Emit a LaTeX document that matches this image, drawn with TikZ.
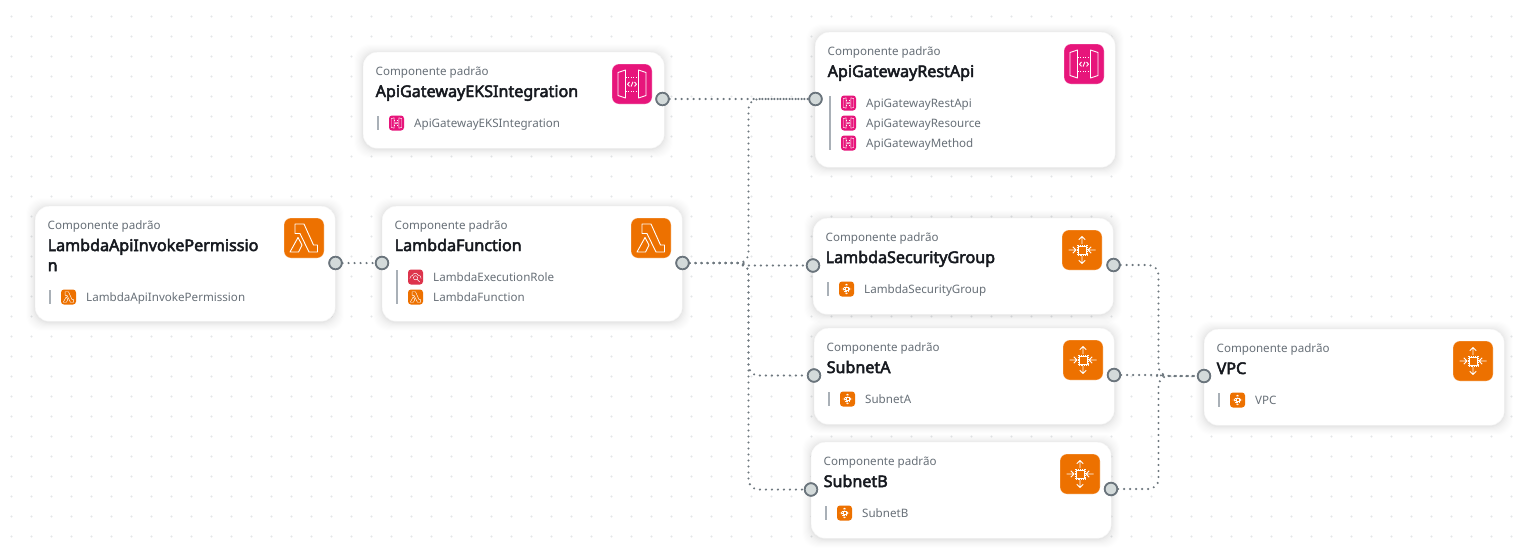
\documentclass[tikz,border=0pt]{standalone}
\usepackage{fontspec}
\setmainfont{Noto Sans}
\newfontfamily\titlefont{Noto Sans}[FakeBold=3]
\usetikzlibrary{calc}
\definecolor{pinkA}{HTML}{E7157B}
\definecolor{orangeA}{HTML}{ED7100}
\definecolor{redA}{HTML}{DD344C}
\definecolor{edgeC}{HTML}{6E787F}
\definecolor{handleF}{HTML}{D3DADA}
\definecolor{handleD}{HTML}{6A747C}
\definecolor{subC}{HTML}{687078}
\definecolor{titleC}{HTML}{16191F}
\definecolor{barC}{HTML}{A9B0B7}
\definecolor{dotC}{HTML}{E3E6E8}
\tikzset{
  x=1pt,y=-1pt,
  cardbox/.style={draw=black!3,line width=.4pt,fill=white,rounded corners=14pt,inner sep=0pt,anchor=north west},
  subtext/.style={anchor=base west,inner sep=0pt,text=subC,font=\fontsize{11.6}{14}\selectfont},
  titletext/.style={anchor=base west,inner sep=0pt,text=titleC,font=\titlefont\fontsize{16.1}{20}\selectfont,align=left},
  itemtext/.style={anchor=base west,inner sep=0pt,text=subC,font=\fontsize{11.6}{14}\selectfont},
  handle/.style={circle,draw=handleD,line width=1.7pt,fill=handleF,minimum size=12.5pt,inner sep=0pt},
  wire/.style={draw=edgeC,line width=2.3pt,line cap=round,dash pattern=on 0pt off 6pt,rounded corners=10pt},
  bigi/.style={line width=.9pt,draw=white,fill=none,line join=round},
  smalli/.style={line width=.45pt,draw=white,fill=none,line join=round},
}
\newcommand{\cardshape}[5]{% name x y w h
  \foreach \s/\o in {9/.005,8/.006,7/.007,6/.008,5/.009,4/.010,3/.012,2/.014,1/.018}{
    \fill[black,opacity=\o,rounded corners=15pt]
      ({#2-\s},{#3-\s+1}) rectangle ({#2+#4+\s},{#3+#5+\s+1});
  }
  \node[cardbox,minimum width=#4pt,minimum height=#5pt] (#1) at (#2,#3) {};
}
\newcommand{\gwglyph}[1]{%
  \draw[#1] (6,8.5) -- (13.5,6) -- (13.5,34) -- (6,31.5) -- cycle;
  \draw[#1] (34,8.5) -- (26.5,6) -- (26.5,34) -- (34,31.5) -- cycle;
  \draw[#1,dash pattern=on 1.4pt off 1.1pt] (13.5,13.5) -- (26.5,13.5) (13.5,27) -- (26.5,27);
  \draw[#1] (17.5,18) -- (15.5,20.2) -- (17.5,22.4) (22.5,18) -- (24.5,20.2) -- (22.5,22.4) (21,17.8) -- (19,22.6);
}
\newcommand{\lamglyph}[1]{%
  \draw[#1] (11,6) -- (20,6) -- (29.5,27) -- (33.5,27) -- (33.5,34) -- (25,34) -- (16,15.5) -- (11,15.5) -- cycle;
  \draw[#1] (14,19.5) -- (18,27) -- (14.5,34) -- (6,34) -- cycle;
}
\newcommand{\chipglyph}[1]{%
  \draw[#1] (16,16) rectangle (24,24);
  \draw[#1,line width=.5pt,dash pattern=on .8pt off 1pt] (15,15) rectangle (25,25);
  \draw[#1] (20,14) -- (20,6.5) (16.8,9.7) -- (20,6.5) -- (23.2,9.7);
  \draw[#1] (20,26) -- (20,33.5) (16.8,30.3) -- (20,33.5) -- (23.2,30.3);
  \draw[#1] (6.5,20) -- (14,20) (10.8,16.8) -- (14,20) -- (10.8,23.2);
  \draw[#1] (33.5,20) -- (26,20) (29.2,16.8) -- (26,20) -- (29.2,23.2);
}
\newcommand{\roleglyph}[1]{%
  \draw[#1] (5,24) .. controls (5,18) and (10,16) .. (12,16) .. controls (13,9) and (24,8) .. (27,15) .. controls (32,15) and (35,19) .. (35,24);
  \draw[#1] (20,22) circle (5.5);
  \draw[#1] (24,26) -- (31,33);
}
\newcommand{\bigicon}[4]{%
  \begin{scope}[shift={(#1,#2)}]
    \fill[#3,rounded corners=7pt] (0,0) rectangle (40,40);
    \draw[white,opacity=.35,line width=.6pt,rounded corners=7pt] (0,0) rectangle (40,40);
    #4{bigi}
  \end{scope}}
\newcommand{\smallicon}[4]{%
  \begin{scope}[shift={(#1,#2)}]
    \fill[#3,rounded corners=3pt] (0,0) rectangle (15,15);
    \begin{scope}[x=.375pt,y=-.375pt]
      #4{smalli}
    \end{scope}
  \end{scope}}
\newcommand{\cardhead}[6]{%
  \node[subtext] (#1sub) at ({#2+12.5},{#3+23.5}) {Componente padrão};
  \node[titletext] (#1tit) at ({#2+12.5},{#3+45}) {#4};
  \bigicon{#2+249}{#3+12}{#5}{#6}
}
\newcommand{\cardrow}[6]{%
  \smallicon{#2+26}{#3-7.5}{#4}{#5}
  \node[itemtext] (#1) at ({#2+51},{#3+4.2}) {#6};
}
\begin{document}
\begin{tikzpicture}
\useasboundingbox (0,0) rectangle (1521,558);
\fill[white] (0,0) rectangle (1521,558);
\foreach \i in {0,...,75}{\foreach \j in {0,...,26}{
  \fill[dotC] ({11.5+20*\i},{16.5+20*\j}) circle (1.1);
}}
\cardshape{eks}{363}{52}{301}{96}
\cardshape{rest}{815}{32}{300}{135}
\cardshape{perm}{35}{206}{300}{115}
\cardshape{func}{382}{206}{300}{115}
\cardshape{lsg}{813}{218}{300}{96}
\cardshape{suba}{814}{328}{300}{96}
\cardshape{subb}{811}{442}{300}{96}
\cardshape{vpc}{1204}{329}{300}{96}
\node[handle] (heks) at (662.5,99) {};
\node[handle] (hrest) at (815.5,99) {};
\node[handle] (hperm) at (335.5,263) {};
\node[handle] (hfuncl) at (382,263) {};
\node[handle] (hfuncr) at (682.5,263) {};
\node[handle] (hlsgl) at (813,265.5) {};
\node[handle] (hlsgr) at (1113.5,265) {};
\node[handle] (hsubal) at (814,375.5) {};
\node[handle] (hsubar) at (1114,375) {};
\node[handle] (hsubbl) at (811,489.5) {};
\node[handle] (hsubbr) at (1111,489) {};
\node[handle] (hvpc) at (1204,376) {};
\draw[wire] (heks) -- (hrest);
\draw[wire] (hperm) -- (hfuncl);
\draw[wire] (hfuncr) -- (748.5,263) -- (748.5,99) -- (hrest);
\draw[wire] (hfuncr) -- (736,263) .. controls (742,263) and (744,265.5) .. (750,265.5) -- (hlsgl);
\draw[wire] (hfuncr) -- (748.5,263) -- (748.5,375.5) -- (hsubal);
\draw[wire] (hfuncr) -- (748.5,263) -- (748.5,489.5) -- (hsubbl);
\draw[wire] (hlsgr) -- (1158.5,265) -- (1158.5,376) -- (hvpc);
\draw[wire] (hsubar) -- (1155,375) .. controls (1159,375) and (1162,376) .. (1166,376) -- (hvpc);
\draw[wire] (hsubbr) -- (1158.5,489) -- (1158.5,376) -- (hvpc);
\foreach \p in {heks,hrest,hperm,hfuncl,hfuncr,hlsgl,hlsgr,hsubal,hsubar,hsubbl,hsubbr,hvpc}{
  \node[handle] at (\p) {};
}
\cardhead{eksh}{363}{52}{ApiGatewayEKSIntegration}{pinkA}{\gwglyph}
\draw[barC,line width=1.3pt] (378,116) -- (378,130);
\cardrow{eksa}{363}{123}{pinkA}{\gwglyph}{ApiGatewayEKSIntegration}
\cardhead{resth}{815}{32}{ApiGatewayRestApi}{pinkA}{\gwglyph}
\draw[barC,line width=1.3pt] (830,96) -- (830,150);
\cardrow{restA}{815}{103}{pinkA}{\gwglyph}{ApiGatewayRestApi}
\cardrow{restB}{815}{123}{pinkA}{\gwglyph}{ApiGatewayResource}
\cardrow{restC}{815}{143}{pinkA}{\gwglyph}{ApiGatewayMethod}
% two-line title: the base anchor is that of the last line
\node[subtext] (permsub) at (47.5,229.5) {Componente padrão};
\node[titletext] (permtit) at (47.5,271) {LambdaApiInvokePermissio\\n};
\bigicon{284}{218}{orangeA}{\lamglyph}
\draw[barC,line width=1.3pt] (50,290) -- (50,304);
\cardrow{perma}{35}{297}{orangeA}{\lamglyph}{LambdaApiInvokePermission}
\cardhead{funch}{382}{206}{LambdaFunction}{orangeA}{\lamglyph}
\draw[barC,line width=1.3pt] (397,270) -- (397,304);
\cardrow{funca}{382}{277}{redA}{\roleglyph}{LambdaExecutionRole}
\cardrow{funcb}{382}{297}{orangeA}{\lamglyph}{LambdaFunction}
\cardhead{lsgh}{813}{218}{LambdaSecurityGroup}{orangeA}{\chipglyph}
\draw[barC,line width=1.3pt] (828,282) -- (828,296);
\cardrow{lsga}{813}{289}{orangeA}{\chipglyph}{LambdaSecurityGroup}
\cardhead{subah}{814}{328}{SubnetA}{orangeA}{\chipglyph}
\draw[barC,line width=1.3pt] (829,392) -- (829,406);
\cardrow{subaa}{814}{399}{orangeA}{\chipglyph}{SubnetA}
\cardhead{subbh}{811}{442}{SubnetB}{orangeA}{\chipglyph}
\draw[barC,line width=1.3pt] (826,506) -- (826,520);
\cardrow{subba}{811}{513}{orangeA}{\chipglyph}{SubnetB}
\cardhead{vpch}{1204}{329}{VPC}{orangeA}{\chipglyph}
\draw[barC,line width=1.3pt] (1219,393) -- (1219,407);
\cardrow{vpca}{1204}{400}{orangeA}{\chipglyph}{VPC}
\end{tikzpicture}
\end{document}
